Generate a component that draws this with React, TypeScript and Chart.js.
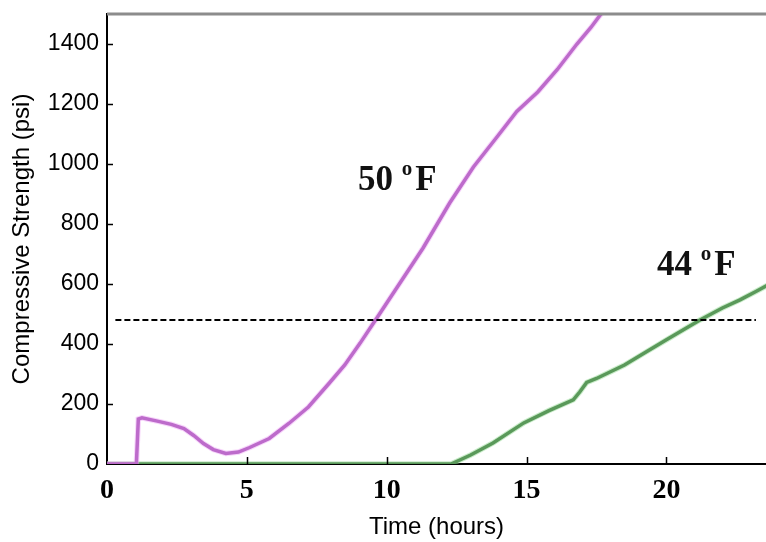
import React, { useEffect, useRef } from "react";
import { Chart, registerables } from "chart.js";

Chart.register(...registerables);

// 50 °F curve
const hours50 = [0, 1.05, 1.12, 1.25, 1.8, 2.3, 2.75, 3.1, 3.45, 3.8, 4.25, 4.7, 5.1, 5.8, 6.5, 7.2, 7.95, 8.5, 9.05, 9.6, 10.45, 11.3, 12.25, 13.1, 13.9, 14.65, 15.4, 16.1, 16.8, 17.3, 17.7];
const strength50 = [0, 0, 150, 154, 143, 132, 118, 95, 68, 48, 35, 40, 55, 85, 135, 190, 270, 330, 403, 480, 600, 720, 870, 990, 1085, 1175, 1240, 1315, 1400, 1455, 1505];

// 44 °F curve
const hours44 = [0, 12.3, 13.0, 13.8, 14.9, 15.8, 16.67, 16.9, 17.15, 17.5, 18.5, 19.3, 20.0, 21.2, 22.0, 22.63, 23.2, 23.6];
const strength44 = [0, 0, 30, 70, 137, 178, 214, 240, 272, 285, 330, 375, 414, 480, 520, 547, 575, 595];

// dashed reference line
const refHours = [0.3, 23.2];
const refStrength = [480, 480];

const xTicks = [0, 5, 10, 15, 20];
const yTicks = [0, 200, 400, 600, 800, 1000, 1200, 1400];

const labels = [
  { text: "50", sup: "o", unit: "F", hour: 8.97, value: 912 },
  { text: "44", sup: "o", unit: "F", hour: 19.66, value: 630 },
];

const xMax = 23.56;
const yMax = 1500;

const toPts = (xs: number[], ys: number[]) => xs.map((x, i) => ({ x, y: ys[i] }));

const framePlugin = {
  id: "frame",
  afterDatasetsDraw(chart: any) {
    const { ctx, chartArea, scales } = chart;
    const xs = scales.x;
    const ys = scales.y;
    ctx.save();
    // top gray line
    ctx.strokeStyle = "#8c8c8c";
    ctx.lineWidth = 3;
    ctx.beginPath();
    ctx.moveTo(chartArea.left, chartArea.top);
    ctx.lineTo(chartArea.right, chartArea.top);
    ctx.stroke();
    // inward ticks
    ctx.strokeStyle = "#000";
    ctx.lineWidth = 1.5;
    ctx.beginPath();
    yTicks.forEach((v) => {
      if (v === 0) return;
      const py = Math.round(ys.getPixelForValue(v)) + 0.5;
      ctx.moveTo(chartArea.left, py);
      ctx.lineTo(chartArea.left + 6, py);
    });
    xTicks.forEach((v) => {
      if (v === 0) return;
      const px = Math.round(xs.getPixelForValue(v)) + 0.5;
      ctx.moveTo(px, chartArea.bottom);
      ctx.lineTo(px, chartArea.bottom - 7);
    });
    ctx.stroke();
    // annotations
    ctx.fillStyle = "#111";
    ctx.textBaseline = "alphabetic";
    ctx.textAlign = "left";
    labels.forEach((l) => {
      let px = xs.getPixelForValue(l.hour);
      const py = ys.getPixelForValue(l.value);
      ctx.font = 'bold 35px "Liberation Serif"';
      ctx.fillText(l.text, px, py);
      px += ctx.measureText(l.text + " ").width;
      ctx.font = 'bold 21px "Liberation Serif"';
      ctx.fillText(l.sup, px, py - 15);
      px += ctx.measureText(l.sup).width + 3;
      ctx.font = 'bold 35px "Liberation Serif"';
      ctx.fillText(l.unit, px, py);
    });
    ctx.restore();
  },
};

export default function App() {
  const ref = useRef<HTMLCanvasElement | null>(null);
  useEffect(() => {
    if (!ref.current) return;
    const chart = new Chart(ref.current, {
      type: "line",
      data: {
        datasets: [
          {
            label: "ref",
            data: toPts(refHours, refStrength),
            borderColor: "#000",
            borderWidth: 2,
            borderDash: [6, 3],
            pointRadius: 0,
            fill: false,
          },
          {
            label: "50F glow",
            data: toPts(hours50, strength50),
            borderColor: "rgba(240,170,248,0.5)",
            borderWidth: 5.5,
            pointRadius: 0,
            tension: 0,
          },
          {
            label: "50F",
            data: toPts(hours50, strength50),
            borderColor: "#8a2c9e",
            borderWidth: 3.5,
            pointRadius: 0,
            tension: 0,
          },
          {
            label: "44F glow",
            data: toPts(hours44, strength44),
            borderColor: "rgba(150,220,150,0.5)",
            borderWidth: 5.5,
            pointRadius: 0,
            tension: 0,
          },
          {
            label: "44F",
            data: toPts(hours44, strength44),
            borderColor: "#1f561f",
            borderWidth: 3.5,
            pointRadius: 0,
            tension: 0,
          },
        ],
      },
      options: {
        animation: false,
        responsive: false,
        maintainAspectRatio: false,
        layout: { padding: { left: 0, right: 0, top: 14, bottom: 0 } },
        plugins: { legend: { display: false }, tooltip: { enabled: false } },
        scales: {
          x: {
            type: "linear",
            min: 0,
            max: xMax,
            afterFit: (s: any) => {
              s.height = 78;
              s.paddingLeft = 0;
              s.paddingRight = 0;
            },
            afterBuildTicks: (s: any) => {
              s.ticks = xTicks.map((v) => ({ value: v }));
            },
            grid: { display: false, drawTicks: false },
            border: { display: true, color: "#000", width: 2 },
            ticks: {
              color: "#000",
              padding: 10,
              maxRotation: 0,
              callback: (v: any) => String(v),
              font: { family: "Liberation Serif", size: 28, weight: "bold" },
            },
            title: {
              display: true,
              text: "Time (hours)",
              color: "#000",
              font: { family: "Liberation Sans", size: 24 },
              padding: { top: 0, bottom: 0 },
            },
          },
          y: {
            type: "linear",
            min: 0,
            max: yMax,
            afterFit: (s: any) => {
              s.width = 107;
              s.paddingTop = 0;
              s.paddingBottom = 0;
            },
            afterBuildTicks: (s: any) => {
              s.ticks = yTicks.map((v) => ({ value: v }));
            },
            grid: { display: false, drawTicks: false },
            border: { display: true, color: "#000", width: 2 },
            ticks: {
              color: "#000",
              padding: 8,
              callback: (v: any) => String(v),
              font: { family: "Liberation Sans", size: 23 },
            },
            title: {
              display: true,
              text: "Compressive Strength (psi)",
              color: "#000",
              font: { family: "Liberation Sans", size: 24 },
              padding: { top: 8, bottom: 0 },
            },
          },
        },
      },
      plugins: [framePlugin],
    });
    return () => chart.destroy();
  }, []);
  return (
    <div style={{ position: "absolute", left: 0, top: 0, width: 766, height: 542, background: "#fff" }}>
      <canvas ref={ref} width={766} height={542} style={{ width: 766, height: 542, display: "block" }} />
    </div>
  );
}
